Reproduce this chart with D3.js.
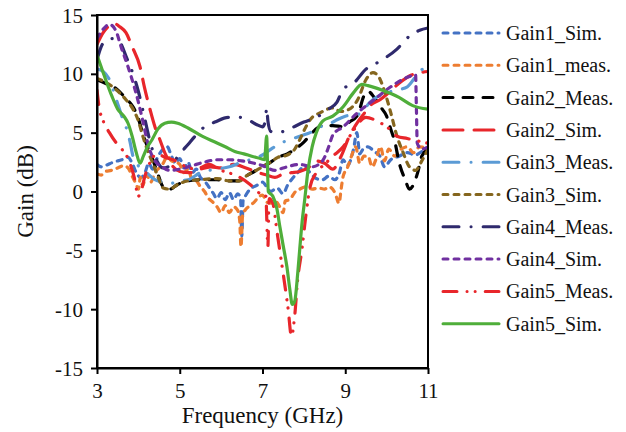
<!DOCTYPE html>
<html>
<head>
<meta charset="utf-8">
<script src="https://cdn.jsdelivr.net/npm/d3@7"></script>
<style>
  body { margin: 0; background: #fff; }
</style>
</head>
<body>
<svg id="chart" width="626" height="432"></svg>
<script>
// data: [frequency GHz, gain dB]
const gain1Sim = [[3.0,2.3],[3.1,2.1],[3.2,2.2],[3.4,2.5],[3.6,2.7],[3.75,2.9],[3.85,2.4],[3.95,1.6],[4.05,1.2],[4.15,1.5],[4.25,2.4],[4.35,1.9],[4.45,2.8],[4.55,3.4],[4.7,3.8],[4.8,3.0],[4.9,2.4],[5.0,2.8],[5.1,2.0],[5.2,2.5],[5.3,1.6],[5.4,1.9],[5.5,1.2],[5.6,0.9],[5.7,0.4],[5.8,-0.1],[5.9,-0.6],[6.0,-0.1],[6.1,-0.7],[6.2,-0.1],[6.3,-0.7],[6.4,-0.2],[6.47,-0.6],[6.5,-3.8],[6.53,-0.8],[6.6,-0.3],[6.7,0.2],[6.85,0.5],[7.0,0.8],[7.1,0.4],[7.2,0.0],[7.35,0.3],[7.5,-0.2],[7.6,0.5],[7.7,1.0],[7.85,1.6],[8.0,2.1],[8.15,1.6],[8.3,1.1],[8.45,1.0],[8.6,1.3],[8.75,1.0],[8.85,1.5],[8.95,2.7],[9.05,2.2],[9.2,3.6],[9.28,5.0],[9.35,3.2],[9.43,3.6],[9.55,3.8],[9.7,3.4],[9.84,3.0],[9.95,2.1],[10.1,2.7],[10.3,3.0],[10.5,3.3],[10.7,3.1],[10.85,3.4],[11.0,3.6]]
const gain1Meas = [[3.0,1.5],[3.1,1.4],[3.2,1.7],[3.35,1.8],[3.5,2.0],[3.65,2.2],[3.75,2.0],[3.85,1.3],[3.95,0.6],[4.0,0.2],[4.05,1.2],[4.1,0.5],[4.2,1.4],[4.3,0.8],[4.4,1.6],[4.5,2.0],[4.6,2.4],[4.7,3.0],[4.8,2.6],[4.9,2.5],[5.0,2.3],[5.1,1.6],[5.2,1.9],[5.3,1.0],[5.4,0.9],[5.5,0.4],[5.6,0.0],[5.7,-0.6],[5.8,-0.9],[5.9,-1.3],[6.0,-1.8],[6.1,-1.2],[6.2,-1.8],[6.3,-1.3],[6.4,-1.6],[6.45,-2.5],[6.48,-4.7],[6.52,-2.0],[6.6,-1.5],[6.7,-1.2],[6.8,-0.9],[6.9,-0.5],[7.0,-0.3],[7.1,-0.9],[7.2,-1.0],[7.3,-0.8],[7.4,-1.2],[7.5,-1.8],[7.55,-0.8],[7.65,-0.7],[7.8,0.0],[7.9,0.2],[8.05,0.4],[8.2,0.2],[8.35,0.3],[8.5,0.2],[8.6,0.4],[8.75,-0.1],[8.85,-1.0],[8.9,0.2],[8.95,1.3],[9.05,2.0],[9.15,3.0],[9.25,3.8],[9.35,2.4],[9.45,3.0],[9.55,3.0],[9.65,2.1],[9.75,2.8],[9.85,3.8],[9.95,2.6],[10.05,3.6],[10.2,3.0],[10.35,3.6],[10.5,3.8],[10.65,3.3],[10.8,3.8],[11.0,3.6]]
const gain2Meas = [[3.0,9.5],[3.2,9.2],[3.48,8.7],[3.7,7.9],[3.87,7.2],[4.0,6.2],[4.1,5.0],[4.22,3.8],[4.35,2.7],[4.48,1.4],[4.6,0.4],[4.76,0.2],[4.95,0.6],[5.2,0.9],[5.5,1.0],[5.9,1.0],[6.2,0.9],[6.45,0.9],[6.6,1.3],[6.8,1.7],[7.0,2.1],[7.2,2.5],[7.37,2.9],[7.6,3.2],[7.78,3.6],[8.0,4.2],[8.2,5.0],[8.45,5.6],[8.7,5.6],[8.95,5.5],[9.1,5.9],[9.3,6.5],[9.45,8.1],[9.55,8.5],[9.7,8.0],[9.85,7.2],[10.0,6.4],[10.1,5.3],[10.2,4.2],[10.3,2.5],[10.45,1.0],[10.55,0.2],[10.65,0.6],[10.75,1.6],[10.85,3.0],[11.0,3.6]]
const gain2Sim = [[3.0,12.5],[3.15,13.5],[3.3,14.1],[3.4,14.3],[3.55,14.0],[3.7,13.5],[3.85,12.3],[4.04,10.6],[4.15,8.8],[4.28,7.0],[4.4,5.5],[4.52,4.4],[4.65,3.2],[4.84,2.1],[5.0,1.7],[5.25,1.6],[5.5,1.9],[5.75,2.1],[6.0,2.0],[6.3,2.3],[6.6,2.0],[6.9,1.6],[7.1,1.4],[7.3,1.2],[7.5,1.5],[7.7,1.6],[7.9,1.7],[8.1,2.0],[8.3,2.6],[8.5,2.4],[8.7,1.9],[8.9,3.0],[9.1,4.7],[9.3,5.9],[9.45,6.6],[9.6,7.3],[9.84,7.8],[10.05,8.4],[10.3,9.2],[10.6,9.9],[10.8,10.1],[11.0,10.2]]
const gain3Meas = [[3.0,10.4],[3.15,10.2],[3.3,9.5],[3.45,8.0],[3.6,6.4],[3.7,5.5],[3.8,4.2],[3.87,3.0],[4.05,2.0],[4.2,1.6],[4.4,1.0],[4.6,0.8],[4.8,0.7],[4.96,0.9],[5.2,1.0],[5.5,1.6],[5.9,1.9],[6.2,2.1],[6.5,2.5],[6.8,2.8],[7.0,3.1],[7.25,3.7],[7.5,4.2],[7.66,4.4],[7.9,4.7],[8.15,5.0],[8.4,5.5],[8.6,5.7],[8.8,6.1],[9.0,6.4],[9.35,6.6],[9.6,7.6],[9.8,8.1],[10.1,8.5],[10.5,8.9],[10.75,10.0],[11.0,10.8]]
const gain3Sim = [[3.0,9.6],[3.2,9.3],[3.48,8.6],[3.7,7.8],[3.87,7.0],[4.0,6.0],[4.1,4.8],[4.22,3.5],[4.35,2.4],[4.48,1.2],[4.6,0.3],[4.76,0.2],[4.95,0.6],[5.2,0.9],[5.5,1.0],[5.9,1.1],[6.2,0.9],[6.45,0.9],[6.6,1.3],[6.8,1.7],[7.0,2.1],[7.2,2.5],[7.37,2.9],[7.6,3.1],[7.78,3.6],[7.9,4.4],[8.05,5.5],[8.15,6.1],[8.4,6.7],[8.7,7.1],[8.9,6.8],[9.1,7.0],[9.3,7.8],[9.5,9.5],[9.67,10.1],[9.8,9.8],[9.96,8.4],[10.1,6.7],[10.25,4.7],[10.4,3.3],[10.55,2.1],[10.7,1.8],[10.85,2.6],[11.0,3.6]]
const gain4Meas = [[3.0,11.2],[3.1,12.3],[3.25,12.9],[3.4,13.0],[3.55,12.7],[3.7,11.5],[3.87,10.0],[4.0,8.5],[4.16,6.1],[4.3,4.0],[4.45,2.6],[4.6,2.0],[4.8,2.3],[5.0,3.2],[5.2,4.0],[5.37,4.7],[5.6,5.5],[5.85,5.9],[6.17,6.3],[6.45,6.3],[6.65,6.1],[6.85,5.7],[7.0,5.5],[7.07,6.0],[7.1,7.1],[7.13,6.0],[7.2,5.1],[7.35,5.0],[7.5,5.1],[7.7,5.4],[8.0,5.9],[8.3,6.3],[8.6,7.0],[8.8,7.6],[8.95,8.7],[9.2,9.2],[9.5,10.4],[9.8,11.0],[10.25,12.1],[10.55,13.2],[10.8,13.7],[11.0,13.9]]
const gain4Sim = [[3.0,13.0],[3.15,13.8],[3.3,14.2],[3.45,13.7],[3.6,12.1],[3.75,10.6],[3.9,8.9],[4.0,7.6],[4.1,6.1],[4.25,3.8],[4.4,2.6],[4.57,2.1],[4.75,1.8],[5.0,1.9],[5.3,2.2],[5.6,2.5],[5.9,2.7],[6.2,2.7],[6.5,2.6],[6.8,2.4],[7.0,2.2],[7.3,1.8],[7.5,2.0],[7.7,2.2],[7.9,2.3],[8.2,2.1],[8.45,2.6],[8.6,3.8],[8.7,4.8],[8.95,5.5],[9.3,6.7],[9.7,7.8],[10.1,8.9],[10.5,9.7],[10.7,9.9],[10.72,7.0],[10.74,4.1],[10.85,3.6],[11.0,3.8]]
const gain5Meas = [[3.0,8.6],[3.05,7.2],[3.15,6.0],[3.3,5.0],[3.45,4.2],[3.6,3.6],[3.75,2.8],[3.9,1.2],[4.0,-0.4],[4.08,0.2],[4.15,1.2],[4.3,2.6],[4.45,3.2],[4.65,2.9],[4.84,2.7],[5.1,2.2],[5.4,1.9],[5.7,2.3],[6.0,1.8],[6.4,1.3],[6.7,0.6],[6.95,-0.2],[7.08,-0.4],[7.13,-4.7],[7.16,-0.6],[7.25,-1.0],[7.35,-3.4],[7.45,-5.8],[7.55,-8.2],[7.62,-10.0],[7.7,-12.3],[7.78,-10.5],[7.85,-7.5],[7.95,-5.0],[8.05,-2.0],[8.15,0.4],[8.3,1.6],[8.5,2.3],[8.7,3.0],[8.95,3.8],[9.2,5.2],[9.5,6.3],[9.76,6.0],[10.07,5.3],[10.25,4.7],[10.5,4.5],[10.75,4.3],[11.0,4.1]]
const gain5Sim = [[3.0,11.6],[3.1,10.6],[3.2,9.6],[3.36,8.1],[3.5,7.0],[3.65,6.4],[3.75,5.8],[3.85,4.7],[3.95,3.3],[4.04,2.4],[4.12,3.0],[4.22,3.8],[4.33,4.4],[4.47,5.3],[4.64,5.8],[4.8,5.9],[4.95,5.8],[5.2,5.4],[5.54,4.7],[5.85,4.2],[6.1,3.8],[6.33,3.4],[6.55,3.2],[6.74,3.0],[6.95,2.8],[7.05,2.7],[7.1,4.7],[7.14,0.0],[7.25,-0.4],[7.35,-1.5],[7.42,-3.0],[7.5,-4.6],[7.59,-6.4],[7.66,-8.3],[7.72,-9.6],[7.78,-9.3],[7.85,-7.0],[7.9,-4.9],[7.96,-2.5],[8.02,-0.7],[8.1,1.8],[8.2,3.8],[8.3,5.0],[8.46,6.0],[8.7,6.4],[8.95,7.2],[9.2,8.4],[9.4,9.1],[9.55,9.0],[9.9,8.6],[10.3,8.0],[10.63,7.3],[11.0,7.0]]

const seriesNames = ['Gain1_Sim.', 'Gain1_meas.', 'Gain2_Meas.', 'Gain2_Sim.', 'Gain3_Meas.', 'Gain3_Sim.', 'Gain4_Meas.', 'Gain4_Sim.', 'Gain5_Meas.', 'Gain5_Sim.']
const seriesData = [gain1Sim, gain1Meas, gain2Meas, gain2Sim, gain3Meas, gain3Sim, gain4Meas, gain4Sim, gain5Meas, gain5Sim]
const xTicks = [3, 5, 7, 9, 11]
const yTicks = [-15, -10, -5, 0, 5, 10, 15]

// styles per series (colour, dash pattern)
const seriesColors = ['#4472c4', '#ed7d31', '#000000', '#e8262b', '#5b9bd5', '#85661e', '#2f2a6d', '#7030a0', '#e8262b', '#4fae3a']
const seriesDash = ['5,6', '5,6', '10,10', '20,11', '16,12,0.1,12', '5,6', '16,12,0.1,12', '5,6', '14,10,0.1,8,0.1,10', null]

// no serif face is installed here, so this falls back to the sans one
const fontFamily = '"Liberation Serif", "Times New Roman", serif'

const margin = { left: 97, right: 198, top: 15, bottom: 64 }
const svg = d3.select('#chart')
const width = +svg.attr('width')
const height = +svg.attr('height')

const x = d3.scaleLinear().domain([3, 11]).range([margin.left, width - margin.right])
const y = d3.scaleLinear().domain([-15, 15]).range([height - margin.bottom, margin.top])

svg.append('defs').append('clipPath').attr('id', 'plotClip')
  .append('rect')
  .attr('x', x(3)).attr('y', y(15))
  .attr('width', x(11) - x(3)).attr('height', y(-15) - y(15))

const line = d3.line()
  .x(d => x(d[0]))
  .y(d => y(d[1]))
  .curve(d3.curveMonotoneX)

const plot = svg.append('g').attr('clip-path', 'url(#plotClip)')
seriesData.forEach((data, i) => {
  plot.append('path')
    .datum(data)
    .attr('d', line)
    .attr('fill', 'none')
    .attr('stroke', seriesColors[i])
    .attr('stroke-width', 3.2)
    .attr('stroke-linecap', 'round')
    .attr('stroke-linejoin', 'round')
    .attr('stroke-dasharray', seriesDash[i])
})

// frame
svg.append('rect')
  .attr('x', x(3)).attr('y', y(15))
  .attr('width', x(11) - x(3)).attr('height', y(-15) - y(15))
  .attr('fill', 'none')
  .attr('stroke', '#000')
  .attr('stroke-width', 2)

// axes
const xAxis = svg.append('g')
  .attr('transform', `translate(0,${y(-15)})`)
  .call(d3.axisBottom(x).tickValues(xTicks).tickSize(6).tickSizeOuter(0).tickFormat(d => String(d)))
const yAxis = svg.append('g')
  .attr('transform', `translate(${x(3)},0)`)
  .call(d3.axisLeft(y).tickValues(yTicks).tickSize(6).tickSizeOuter(0).tickFormat(d => String(d)))

;[xAxis, yAxis].forEach(g => {
  g.attr('font-family', fontFamily).attr('font-size', 21)
  g.select('.domain').attr('stroke', '#000').attr('stroke-width', 2)
  g.selectAll('.tick line').attr('stroke', '#000').attr('stroke-width', 2)
  g.selectAll('.tick text').attr('fill', '#111')
})
xAxis.selectAll('.tick text').attr('dy', null).attr('y', 30)
yAxis.selectAll('.tick text').attr('x', -14).attr('dy', '0.34em')

// axis titles
svg.append('text')
  .attr('x', (x(3) + x(11)) / 2)
  .attr('y', 423)
  .attr('text-anchor', 'middle')
  .attr('font-family', fontFamily)
  .attr('font-size', '23px')
  .attr('fill', '#111')
  .text('Frequency (GHz)')

svg.append('text')
  .attr('transform', `translate(33,${(y(15) + y(-15)) / 2}) rotate(-90)`)
  .attr('text-anchor', 'middle')
  .attr('font-family', fontFamily)
  .attr('font-size', '23px')
  .attr('fill', '#111')
  .text('Gain (dB)')

// legend
const legend = svg.append('g').attr('transform', 'translate(442,33)')
seriesNames.forEach((name, i) => {
  const row = legend.append('g').attr('transform', `translate(0,${i * 32.3})`)
  row.append('line')
    .attr('x1', 1).attr('x2', 57)
    .attr('y1', 0).attr('y2', 0)
    .attr('stroke', seriesColors[i])
    .attr('stroke-width', 3)
    .attr('stroke-linecap', 'round')
    .attr('stroke-dasharray', seriesDash[i])
  row.append('text')
    .attr('x', 64)
    .attr('y', 0)
    .attr('dy', '0.35em')
    .attr('font-family', fontFamily)
    .attr('font-size', '20px')
    .attr('fill', '#111')
    .text(name)
})
</script>
</body>
</html>
